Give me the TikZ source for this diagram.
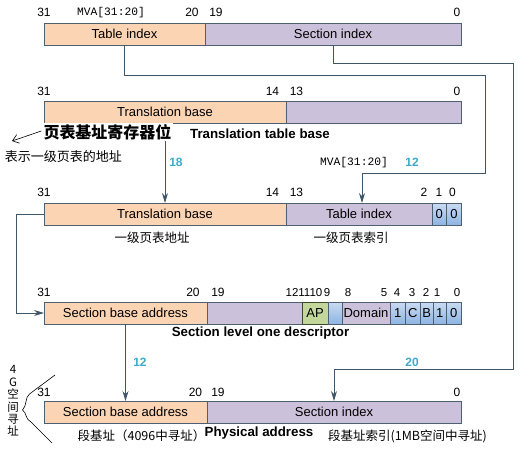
\documentclass[tikz,border=0pt]{standalone}
\usepackage{fontspec}
\setmainfont{Liberation Sans}
\setsansfont{Liberation Sans}
\setmonofont{Liberation Mono}
\newfontfamily\cjk{Noto Sans CJK SC}
\usetikzlibrary{arrows.meta}
\definecolor{orng}{HTML}{FBD4B4}
\definecolor{purp}{HTML}{CCC1DA}
\definecolor{bluetop}{HTML}{C9DBF1}
\definecolor{bluebot}{HTML}{8EB4E3}
\definecolor{apgreen}{HTML}{C3D69B}
\definecolor{apedge}{HTML}{3D4A2A}
\definecolor{edge}{HTML}{4D5F70}
\definecolor{wire}{HTML}{3F5569}
\definecolor{tealc}{HTML}{3FA9C9}
\tikzset{
  fld/.style={draw=edge, line width=0.8pt, minimum height=22pt, inner sep=0pt, outer sep=0pt,
              anchor=north west, font=\fontsize{13}{13}\selectfont},
  ofld/.style={fld, fill=orng},
  pfld/.style={fld, fill=purp},
  bfld/.style={fld, top color=bluetop, bottom color=bluebot},
  gfld/.style={fld, fill=apgreen, draw=apedge},
  num/.style={font=\fontsize{12}{12}\selectfont, inner sep=0pt},
  snum/.style={font=\fontsize{11.5}{11.5}\selectfont, inner sep=0pt},
  mva/.style={font=\ttfamily\fontsize{11.3}{11.3}\selectfont, inner sep=0pt},
  bits/.style={font=\bfseries\fontsize{12}{12}\selectfont, text=tealc, inner sep=0pt},
  capt/.style={font=\bfseries\fontsize{13.3}{13.3}\selectfont, inner sep=0pt},
  zh/.style={font=\cjk\fontsize{12.5}{12.5}\selectfont, inner sep=0pt},
  wirel/.style={draw=wire, line width=0.9pt},
  arr/.style={wirel, -{Stealth[length=10pt,width=6pt]}},
  note/.style={draw=black, line width=0.6pt}
}
\begin{document}
\begin{tikzpicture}[x=1pt,y=-1pt]
\useasboundingbox (0,0) rectangle (531,448);
\fill[white] (0,0) rectangle (531,448);

% ---------- Row 1 : MVA ----------
\node[ofld, minimum width=161pt] (r1a) at (44,23) {Table index};
\node[pfld, minimum width=256pt] (r1b) at (205,23) {Section index};
\node[num] (l1a) at (44,12.5) {31};
\node[mva] (l1m) at (111,12.5) {MVA[31:20]};
\node[num] (l1b) at (192,12.5) {20};
\node[num] (l1c) at (216,12.5) {19};
\node[num] (l1d) at (457,12.5) {0};

% ---------- Row 2 : Translation table base ----------
\node[ofld, minimum width=242pt] (r2a) at (44,101) {Translation base};
\node[pfld, minimum width=175pt] (r2b) at (286,101) {};
\node[num] (l2a) at (44,91.5) {31};
\node[num] (l2b) at (272.5,91.5) {14};
\node[num] (l2c) at (296.5,91.5) {13};
\node[num] (l2d) at (457,91.5) {0};

% ---------- Row 3 : first level table address ----------
\node[ofld, minimum width=242pt] (r3a) at (44,203) {Translation base};
\node[pfld, minimum width=146pt] (r3b) at (286,203) {Table index};
\node[bfld, minimum width=14.5pt] (r3c) at (432,203) {0};
\node[bfld, minimum width=15pt] (r3d) at (446.5,203) {0};
\node[num] (l3a) at (44,192.5) {31};
\node[num] (l3b) at (272.5,192.5) {14};
\node[num] (l3c) at (296.5,192.5) {13};
\node[num] (l3d) at (424,192.5) {2};
\node[num] (l3e) at (439,192.5) {1};
\node[num] (l3f) at (452.5,192.5) {0};

% ---------- Row 4 : section descriptor ----------
\node[ofld, minimum width=163pt] (r4a) at (44,302) {Section base address};
\node[pfld, minimum width=95pt] (r4b) at (207,302) {};
\node[gfld, minimum width=26pt] (r4c) at (302,302) {AP};
\node[bfld, minimum width=14pt] (r4d) at (328,302) {};
\node[pfld, minimum width=48pt] (r4e) at (342,302) {Domain};
\node[bfld, minimum width=15.5pt] (r4f) at (390,302) {1};
\node[bfld, minimum width=14.5pt] (r4g) at (405.5,302) {C};
\node[bfld, minimum width=13.5pt] (r4h) at (420,302) {B};
\node[bfld, minimum width=12.5pt] (r4i) at (433.5,302) {1};
\node[bfld, minimum width=15.5pt] (r4j) at (446,302) {0};
\node[num] (l4a) at (44,292.5) {31};
\node[num] (l4b) at (193,292.5) {20};
\node[num] (l4c) at (218,292.5) {19};
\node[snum] (l4d) at (304,292.5) {121110};
\node[snum] (l4g) at (327,292.5) {9};
\node[snum] (l4h) at (348,292.5) {8};
\node[snum] (l4i) at (384,292.5) {5};
\node[snum] (l4j) at (397,292.5) {4};
\node[snum] (l4k) at (412,292.5) {3};
\node[snum] (l4l) at (426,292.5) {2};
\node[snum] (l4m) at (437,292.5) {1};
\node[snum] (l4n) at (457,292.5) {0};

% ---------- Row 5 : physical address ----------
\node[ofld, minimum width=163pt] (r5a) at (44,401) {Section base address};
\node[pfld, minimum width=254pt] (r5b) at (207,401) {Section index};
\node[num] (l5a) at (44,392) {31};
\node[num] (l5b) at (195.5,392) {20};
\node[num] (l5c) at (218,392) {19};
\node[num] (l5d) at (457,392) {0};

% ---------- connectors ----------
\coordinate (p1) at (485.5,75);
\coordinate (p2) at (362,173);
\draw[arr] (r1a.south) |- (p1) |- (p2) -- (p2 |- r3b.north);
\coordinate (q1) at (513,63);
\coordinate (q2) at (334,369);
\draw[arr] (r1b.south) |- (q1) |- (q2) -- (q2 |- r5b.north);
\draw[arr] (r2a.south) -- (r3a.north);
\coordinate (k1) at (16,214);
\draw[arr] (r3a.west) -- (k1) |- (r4a.west);
\draw[arr] (r4a.south) -- (r5a.north);

% ---------- bit counts ----------
\node[bits] (b18) at (176,162) {18};
\node[mva] (m2) at (354,162.5) {MVA[31:20]};
\node[bits] (b12a) at (412,162) {12};
\node[bits] (b12b) at (140,362.5) {12};
\node[bits] (b20) at (412,362.5) {20};

% ---------- captions ----------
\node[font=\cjk\bfseries\fontsize{16}{16}\selectfont, fill=white, inner sep=1pt] (zreg) at (107.5,132) {页表基址寄存器位};
\node[capt] (ttb) at (260,134) {Translation table base};
\node[zh, font=\cjk\fontsize{13}{13}\selectfont] (zaddr) at (63.5,157) {表示一级页表的地址};
\draw[note, -{Straight Barb[length=6pt,width=9pt]}] (zreg.west) ++(-1,-1) -- (12,141);
\node[zh] (z1) at (152,238) {一级页表地址};
\node[zh] (z2) at (351,238) {一级页表索引};
\node[capt] (sld) at (260.5,333) {Section level one descriptor};
\node[capt] (pa) at (259,433.5) {Physical address};
\node[zh] (z3) at (141.5,436) {段基址（4096中寻址）};
\node[zh] (z4) at (407.5,436) {段基址索引(1MB空间中寻址)};

% ---------- 4G annotation ----------
\node[font=\cjk\fontsize{11.5}{12.4}\selectfont, align=center, inner sep=0pt] (g4) at (13,401) {4\\G\\空\\间\\寻\\址};
\draw[note] (55,375) -- (29.5,394)
  .. controls (25,397) and (27,406) .. (22.5,410)
  .. controls (27,413) and (25,419) .. (31,422) -- (52,443);
\end{tikzpicture}
\end{document}
